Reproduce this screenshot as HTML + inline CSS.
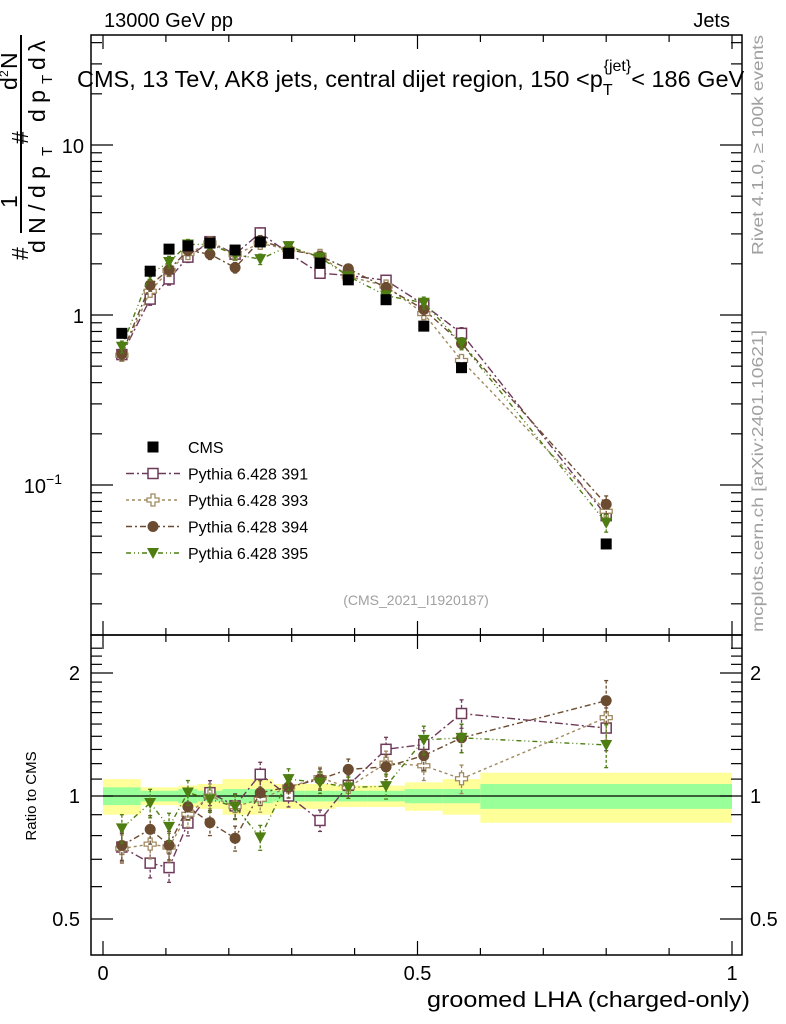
<!DOCTYPE html>
<html><head><meta charset="utf-8"><style>
body{margin:0;background:#fff}
svg{display:block;font-family:"Liberation Sans",sans-serif}
</style></head><body>
<svg id="c" width="786" height="1024" xmlns="http://www.w3.org/2000/svg"></svg>
<script>
const binEdges=[0,0.06,0.09,0.12,0.15,0.19,0.23,0.27,0.32,0.37,0.42,0.48,0.54,0.6,1.0];
const xCenters=[0.03,0.075,0.105,0.135,0.17,0.21,0.25,0.295,0.345,0.39,0.45,0.51,0.57,0.80];
const cms=[0.78,1.81,2.44,2.55,2.65,2.41,2.69,2.31,2.02,1.61,1.23,0.86,0.49,0.045];
const bandStat=[0.05,0.03,0.03,0.04,0.03,0.04,0.04,0.03,0.03,0.03,0.03,0.04,0.04,0.07];
const bandTot=[0.10,0.05,0.05,0.06,0.07,0.10,0.10,0.07,0.07,0.06,0.06,0.08,0.10,0.14];
const p391=[0.585,1.24,1.63,2.19,2.70,2.28,3.04,2.31,1.76,1.71,1.60,1.15,0.78,0.066];
const p393=[0.58,1.38,1.83,2.30,2.65,2.27,2.64,2.43,2.24,1.69,1.48,1.02,0.54,0.070];
const p394=[0.59,1.50,1.85,2.40,2.28,1.90,2.74,2.43,2.22,1.87,1.45,1.08,0.68,0.077];
const p395=[0.65,1.74,2.05,2.60,2.60,2.27,2.13,2.54,2.18,1.69,1.30,1.18,0.68,0.060];
const errRel=[0.08,0.08,0.08,0.07,0.07,0.07,0.07,0.06,0.06,0.06,0.07,0.08,0.08,0.12];

const NS="http://www.w3.org/2000/svg";
const svg=document.getElementById('c');
function el(t,a,p){const e=document.createElementNS(NS,t);for(const k in a)e.setAttribute(k,a[k]);(p||svg).appendChild(e);return e;}
const L=91,R=742,T=35,M=635,B=955;
const X=v=>103+629*v;
const Y=v=>315-170*Math.log10(v);
const YR=r=>796-408.6*Math.log10(r);

const gb=el('g',{});


for(let i=0;i<cms.length;i++){
  const x0=X(binEdges[i]),x1=X(binEdges[i+1]);
  el('rect',{x:x0,y:YR(1+bandTot[i]),width:x1-x0,height:YR(1-bandTot[i])-YR(1+bandTot[i]),fill:'#ffff99'},gb);
  el('rect',{x:x0,y:YR(1+bandStat[i]),width:x1-x0,height:YR(1-bandStat[i])-YR(1+bandStat[i]),fill:'#99ff99'},gb);
}
el('line',{x1:X(0),x2:X(1),y1:YR(1),y2:YR(1),stroke:'#000','stroke-width':1.2});

for(const [y0,y1,n] of [[T,M,'main-frame'],[M,B,'ratio-frame']]){
  const r=el('rect',{x:L,y:y0,width:R-L,height:y1-y0,fill:'none',stroke:'#000','stroke-width':1.5});
  
}
for(let v=0;v<=1.0001;v+=0.1){
  const big=Math.abs(v*2-Math.round(v*2))<1e-6, len=big?14:7;
  for(const [y,d] of [[T,1],[M,-1],[M,1],[B,-1]]) el('line',{x1:X(v),x2:X(v),y1:y,y2:y+d*len,stroke:'#000','stroke-width':1.2});
}
for(let dec=-2;dec<=1;dec++)for(let m=1;m<10;m++){
  const v=m*Math.pow(10,dec),y=Y(v);if(y<T||y>M)continue;
  const len=m==1?22:11;
  el('line',{x1:L,x2:L+len,y1:y,y2:y,stroke:'#000','stroke-width':1.2});
  el('line',{x1:R,x2:R-len,y1:y,y2:y,stroke:'#000','stroke-width':1.2});
}
for(let r=0.4;r<=2.35;r+=0.1){
  const y=YR(r);if(y<M||y>B)continue;
  const big=[0.5,1,2].some(q=>Math.abs(q-r)<1e-6),len=big?22:11;
  el('line',{x1:L,x2:L+len,y1:y,y2:y,stroke:'#000','stroke-width':1.2});
  el('line',{x1:R,x2:R-len,y1:y,y2:y,stroke:'#000','stroke-width':1.2});
}
function txt(s,a,name){const t=el('text',a);t.textContent=s;return t;}
txt('10',{x:84,y:153,'font-size':20,'text-anchor':'end'},'y-tick-10');
txt('1',{x:84,y:323,'font-size':20,'text-anchor':'end'},'y-tick-1');
const tm=txt('10',{x:62,y:493,'font-size':20,'text-anchor':'end'},'y-tick-0.1');
const sup=el('tspan',{dy:-9,'font-size':14},tm);sup.textContent='−1';
for(const [s,r] of [['2',2],['1',1],['0.5',0.5]]){
  txt(s,{x:80,y:YR(r)+7,'font-size':20,'text-anchor':'end'},'ratio-tick-'+s);
  txt(s,{x:750,y:YR(r)+7,'font-size':20},'ratio-tick-right-'+s);
}
for(const [s,v] of [['0',0],['0.5',0.5],['1',1]]) txt(s,{x:X(v),y:980,'font-size':20,'text-anchor':'middle'},'x-tick-'+s);
txt('groomed LHA (charged-only)',{x:427,y:1007,'font-size':22,textLength:323,lengthAdjust:'spacingAndGlyphs'},'x-axis-title');
txt('Ratio to CMS',{x:0,y:0,'font-size':15,'text-anchor':'middle',transform:'translate(36,796) rotate(-90)'},'ratio-axis-title');
txt('13000 GeV pp',{x:104,y:27,'font-size':20},'beam-label');
txt('Jets',{x:730,y:27,'font-size':20,'text-anchor':'end'},'analysis-label');
const tt=txt('CMS, 13 TeV, AK8 jets, central dijet region, 150 <p',{x:77,y:87,'font-size':23.5},'plot-title');
let s1=el('tspan',{dy:8,'font-size':16},tt);s1.textContent='T';
let s2=el('tspan',{dx:-9,dy:-24,'font-size':16},tt);s2.textContent='{jet}';
let s3=el('tspan',{dy:16,'font-size':23.5},tt);s3.textContent='< 186 GeV';
txt('(CMS_2021_I1920187)',{x:416,y:605,'font-size':14,fill:'#a0a0a0','text-anchor':'middle'},'analysis-id');
txt('Rivet 4.1.0, ≥ 100k events',{x:0,y:0,'font-size':16,fill:'#a0a0a0',textLength:220,lengthAdjust:'spacingAndGlyphs',transform:'translate(763,255) rotate(-90)'},'rivet-version');
txt('mcplots.cern.ch [arXiv:2401.10621]',{x:0,y:0,'font-size':16,fill:'#a0a0a0',textLength:302,lengthAdjust:'spacingAndGlyphs',transform:'translate(763,632) rotate(-90)'},'mcplots-credit');
const yl=el('g',{transform:'translate(0,268) rotate(-90)'});

function yt(s,x,y,fs){const t=el('text',{x:x,y:y,'font-size':fs||23},yl);t.textContent=s;return t;}
yt('#',8,28);
el('line',{x1:35,x2:233,y1:21,y2:21,stroke:'#000','stroke-width':2},yl);
yt('1',60,17);
yt('d N / d p',15,45);yt('T',112,52,15);
yt('#',124,28);
el('line',{x1:143,x2:233,y1:21,y2:21,stroke:'#000','stroke-width':1.5},yl);
yt('d p',146,45);yt('T',184,52,15);yt('d',198,45);yt('λ',216,45);
yt('d',178,17);yt('2',191,8,12);yt('N',199,17);

const series=[
 {name:'391',d:p391,c:'#6e3a5a',m:'sq',dash:'8,3,2,3'},
 {name:'393',d:p393,c:'#a08a60',m:'cross',dash:'3,3'},
 {name:'394',d:p394,c:'#6b4c30',m:'circ',dash:'6,3,2,3'},
 {name:'395',d:p395,c:'#4e7d12',m:'tri',dash:'5,3,1,3,1,3'}];
function marker(g,type,x,y,c){
  if(type=='sq')el('rect',{x:x-5,y:y-5,width:10,height:10,fill:'#fff',stroke:c,'stroke-width':1.5},g);
  else if(type=='cross')el('path',{d:`M${x-2},${y-6}h4v4h4v4h-4v4h-4v-4h-4v-4h4z`,fill:'#fff',stroke:c,'stroke-width':1.3},g);
  else if(type=='circ')el('circle',{cx:x,cy:y,r:5.5,fill:c},g);
  else if(type=='tri')el('path',{d:`M${x-6},${y-5}L${x+6},${y-5}L${x},${y+6}z`,fill:c},g);
  else if(type=='cms')el('rect',{x:x-5.5,y:y-5.5,width:11,height:11,fill:'#000'},g);
}
series.forEach(s=>{
  const g=el('g',{});
  
  
  const pm=s.d.map((v,i)=>[X(xCenters[i]),Y(v)]);
  const pr=s.d.map((v,i)=>[X(xCenters[i]),YR(v/cms[i])]);
  el('polyline',{points:pm.join(' '),fill:'none',stroke:s.c,'stroke-width':1.4,'stroke-dasharray':s.dash},g);
  el('polyline',{points:pr.join(' '),fill:'none',stroke:s.c,'stroke-width':1.4,'stroke-dasharray':s.dash},g);
  s.d.forEach((v,i)=>{
    const x=X(xCenters[i]),e=errRel[i];
    [[Y(v*(1+e)),Y(v*(1-e)),Y(v)],[YR(v/cms[i]*(1+e)),YR(v/cms[i]*(1-e)),YR(v/cms[i])]].forEach(([a,b,c])=>{
      el('line',{x1:x,x2:x,y1:a,y2:b,stroke:s.c,'stroke-width':1.3,'stroke-dasharray':'3,2'},g);
      el('line',{x1:x-2,x2:x+2,y1:a,y2:a,stroke:s.c,'stroke-width':1.3},g);
      el('line',{x1:x-2,x2:x+2,y1:b,y2:b,stroke:s.c,'stroke-width':1.3},g);
      marker(g,s.m,x,c,s.c);
    });
  });
});
const gc=el('g',{});


cms.forEach((v,i)=>marker(gc,'cms',X(xCenters[i]),Y(v),'#000'));

const lg=el('g',{});


const ents=[{n:'CMS',m:'cms',c:'#000'}].concat(series.map(s=>({n:'Pythia 6.428 '+s.name,m:s.m,c:s.c,dash:s.dash})));
ents.forEach((e,i)=>{
  const y=447+i*26.5;
  const g=el('g',{},lg);
  
  
  if(e.dash)el('line',{x1:126,x2:180,y1:y,y2:y,stroke:e.c,'stroke-width':1.4,'stroke-dasharray':e.dash},g);
  marker(g,e.m,153,y,e.c);
  const t=el('text',{x:188,y:y+6,'font-size':16},g);t.textContent=e.n;
});
</script>
</body></html>
